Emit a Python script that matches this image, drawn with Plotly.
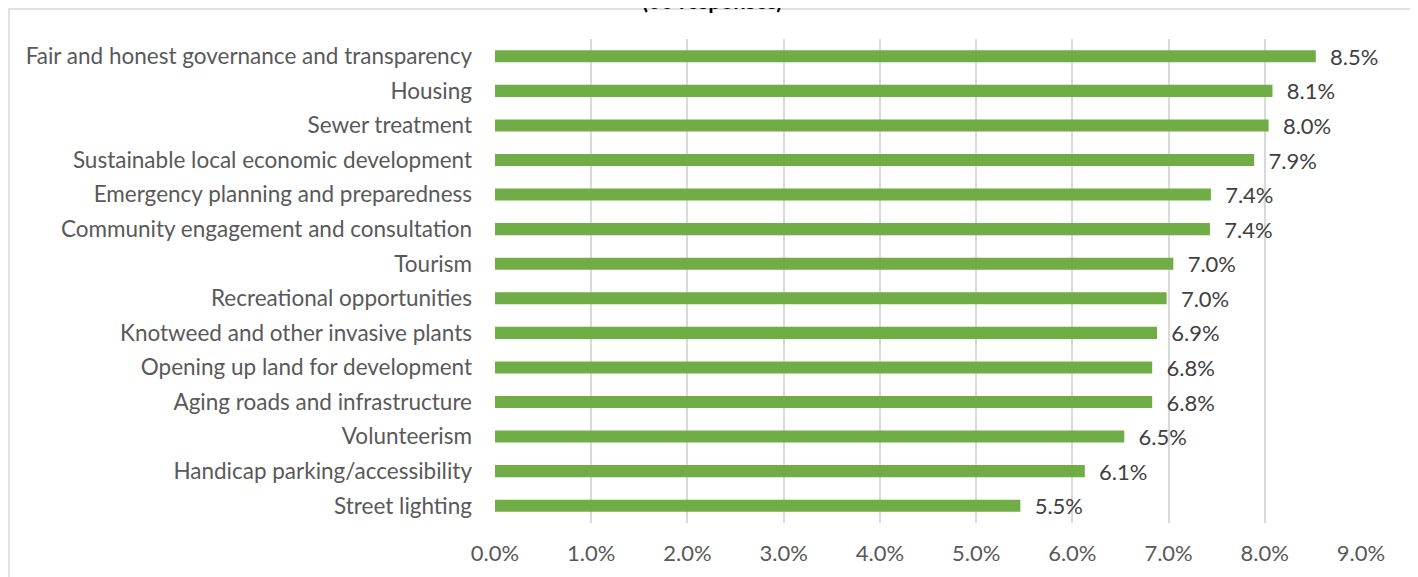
import plotly.graph_objects as go

categories = [
    "Fair and honest governance and transparency",
    "Housing",
    "Sewer treatment",
    "Sustainable local economic development",
    "Emergency planning and preparedness",
    "Community engagement and consultation",
    "Tourism",
    "Recreational opportunities",
    "Knotweed and other invasive plants",
    "Opening up land for development",
    "Aging roads and infrastructure",
    "Volunteerism",
    "Handicap parking/accessibility",
    "Street lighting",
]
values = [8.53, 8.08, 8.04, 7.89, 7.44, 7.43, 7.05, 6.98, 6.88, 6.83, 6.83, 6.54, 6.13, 5.46]
labels = ["8.5%", "8.1%", "8.0%", "7.9%", "7.4%", "7.4%", "7.0%", "7.0%", "6.9%", "6.8%", "6.8%", "6.5%", "6.1%", "5.5%"]
tick_values = [0, 1, 2, 3, 4, 5, 6, 7, 8, 9]
tick_labels = ["0.0%", "1.0%", "2.0%", "3.0%", "4.0%", "5.0%", "6.0%", "7.0%", "8.0%", "9.0%"]
title_text = "(66 responses)"

# page body has an 8px margin; figure coordinates are window - 8
W, H = 1410, 569
L, R, T, B = 487, 57, 31, 54
pw, ph = W - L - R, H - T - B

def px(x):
    return (x - L) / pw

def py(y):
    return (H - B - y) / ph

font_family = "Lato, 'Open Sans', sans-serif"
fs = 22

fig = go.Figure(go.Bar(
    x=values,
    y=categories,
    orientation="h",
    marker=dict(color="#70ad47", line=dict(width=0)),
    width=0.35,
    text=labels,
    textposition="outside",
    texttemplate="  %{text}",
    constraintext="none",
    textfont=dict(family=font_family, size=fs, color="#404040"),
    cliponaxis=False,
    hoverinfo="skip",
))

fig.update_layout(
    width=W, height=H,
    margin=dict(l=L, r=R, t=T, b=B, pad=0),
    paper_bgcolor="white", plot_bgcolor="white",
    showlegend=False,
    xaxis=dict(
        range=[0, 9],
        tickmode="array",
        tickvals=tick_values,
        ticktext=tick_labels,
        showgrid=True,
        gridcolor="#d9d9d9",
        gridwidth=2,
        zeroline=False,
        showline=False,
        ticks="",
        ticklabelstandoff=15,
        tickfont=dict(family=font_family, size=fs, color="#595959"),
        fixedrange=True,
    ),
    yaxis=dict(
        autorange="reversed",
        showgrid=False,
        zeroline=False,
        showline=False,
        ticks="",
        ticklabelstandoff=22,
        tickfont=dict(family=font_family, size=22.5, color="#595959"),
        fixedrange=True,
    ),
    shapes=[dict(
        type="rect", xref="paper", yref="paper",
        x0=px(1), x1=px(1407), y0=py(600), y1=py(1),
        line=dict(color="#d9d9d9", width=1.5), fillcolor="rgba(0,0,0,0)",
        layer="below",
    )],
    annotations=[dict(
        text=f"<b>{title_text}</b>",
        xref="paper", yref="paper",
        x=px(704), y=py(8), xanchor="center", yanchor="bottom",
        showarrow=False,
        font=dict(family=font_family, size=22, color="#000000"),
    )],
)

fig.write_html("out.html")
